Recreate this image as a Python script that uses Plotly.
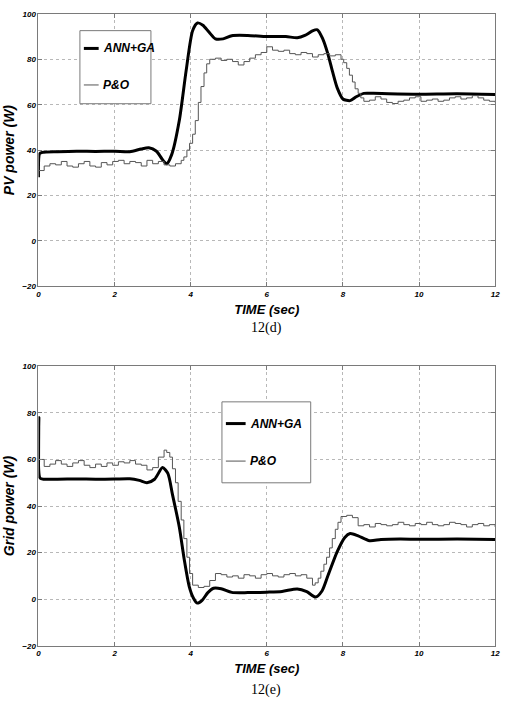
import plotly.graph_objects as go

# ---------------- data ----------------
# 12(d) PV power
pv_ann_t = [0, 0.03, 0.1, 0.5, 1.0, 1.5, 2.0, 2.4, 2.7, 2.9, 3.1, 3.25, 3.37, 3.5, 3.7, 3.88, 4.05, 4.18,
            4.32, 4.48, 4.65, 4.85, 5.08, 5.5, 6.0, 6.5, 6.8, 7.0, 7.2, 7.33, 7.47, 7.6, 7.72, 7.85, 8.0,
            8.19, 8.35, 8.55, 8.8, 9.2, 10, 11, 12]
pv_ann_v = [28, 38.5, 39, 39.3, 39.5, 39.4, 39.5, 39.3, 40.5, 41, 39.5, 36, 34, 38, 53, 75, 92.6, 96,
            95, 92, 89, 89, 90.4, 90.5, 90, 90, 89.5, 90.5, 92.5, 93, 89, 82.6, 75, 67.4, 62.5,
            61.8, 63.5, 65, 65, 64.8, 64.6, 64.8, 64.5]

# P&O (time, value) samples, drawn as steps
pv_po = [(0, 31), (0.15, 33), (0.3, 34), (0.45, 33.5), (0.6, 35), (0.75, 33), (0.9, 32.5), (1.05, 34),
         (1.2, 35), (1.35, 33), (1.5, 32.5), (1.65, 34.5), (1.8, 33.5), (1.95, 35), (2.1, 35.5),
         (2.25, 34), (2.4, 35), (2.55, 34.5), (2.7, 33), (2.85, 35.5), (3.0, 34), (3.15, 35),
         (3.3, 33.5), (3.45, 33), (3.6, 34), (3.75, 35.5), (3.82, 37), (3.9, 40), (3.97, 43), (4.05, 47),
         (4.12, 53), (4.2, 61), (4.27, 68), (4.35, 74), (4.42, 78), (4.5, 80), (4.65, 80.5), (4.8, 79.5),
         (4.95, 80), (5.1, 79), (5.25, 77.5), (5.4, 79), (5.55, 80.5), (5.7, 82), (5.85, 83), (6.0, 85.5),
         (6.15, 84), (6.3, 83.5), (6.45, 84), (6.6, 82.5), (6.75, 82), (6.9, 83), (7.05, 82.5), (7.2, 81),
         (7.35, 82), (7.5, 82.5), (7.65, 81.5), (7.8, 82), (7.95, 80), (8.02, 78.5), (8.1, 76), (8.17, 73),
         (8.25, 70), (8.32, 67), (8.4, 65), (8.47, 63), (8.55, 61.5), (8.7, 62), (8.85, 63.5), (9.0, 62.5),
         (9.15, 61), (9.3, 60.5), (9.45, 61.5), (9.6, 62), (9.75, 63), (9.9, 63.5), (10.05, 61.5),
         (10.2, 62), (10.35, 62.5), (10.5, 61.5), (10.65, 62), (10.8, 63), (10.95, 63.5), (11.1, 62.5),
         (11.25, 63), (11.4, 64), (11.55, 63), (11.7, 62), (11.85, 61.5), (12.0, 61)]

# 12(e) Grid power
gr_ann_t = [0, 0.01, 0.04, 0.15, 0.5, 1.0, 1.5, 2.0, 2.4, 2.65, 2.85, 3.05, 3.26, 3.4, 3.52, 3.7, 3.83, 3.96,
            4.07, 4.17, 4.3, 4.45, 4.6, 4.8, 5.08, 5.5, 6.0, 6.4, 6.8, 7.05, 7.28, 7.45, 7.6, 7.85, 8.05,
            8.19, 8.4, 8.7, 9.0, 9.5, 10, 11, 12]
gr_ann_v = [52, 78, 52, 51.5, 51.5, 51.6, 51.5, 51.6, 51.7, 51, 50, 51.5, 56.5, 54, 45, 31, 17, 5.5,
            0.5, -1.7, -0.5, 2.8, 4.7, 4.5, 2.9, 2.8, 3, 3.3, 4.4, 3.2, 0.9, 3.5, 9.8, 20.4, 26.5,
            28.2, 27.2, 25.1, 25.6, 25.8, 25.7, 25.8, 25.6]

gr_po = [(0, 60), (0.15, 57), (0.3, 58), (0.45, 59.5), (0.6, 58), (0.75, 57), (0.9, 58.5), (1.05, 59.5),
         (1.2, 57.5), (1.35, 56.5), (1.5, 58), (1.65, 57), (1.8, 58.5), (1.95, 57.5), (2.1, 59),
         (2.25, 58.5), (2.4, 59.5), (2.55, 58), (2.7, 57.5), (2.85, 55.5), (3.0, 56.5), (3.15, 61),
         (3.3, 64), (3.37, 63), (3.45, 61), (3.52, 56), (3.6, 50), (3.67, 42), (3.75, 34), (3.82, 26),
         (3.9, 18), (3.97, 11), (4.05, 6), (4.2, 5), (4.35, 5.5), (4.5, 8), (4.65, 11), (4.8, 10.5),
         (4.95, 9.5), (5.1, 10), (5.25, 9), (5.4, 10.5), (5.55, 10), (5.7, 9), (5.85, 10.5), (6.0, 11),
         (6.15, 10), (6.3, 9.5), (6.45, 10.5), (6.6, 11), (6.75, 10), (6.9, 10.5), (7.05, 9), (7.2, 6),
         (7.27, 7), (7.35, 9), (7.42, 12), (7.5, 15), (7.57, 18), (7.65, 22), (7.72, 26), (7.8, 30),
         (7.87, 33), (7.95, 35.5), (8.1, 36), (8.25, 35), (8.4, 31.5), (8.55, 32), (8.7, 31), (8.85, 32.5),
         (9.0, 32), (9.15, 31.5), (9.3, 32), (9.45, 33), (9.6, 32), (9.75, 31.5), (9.9, 32.5), (10.05, 32),
         (10.2, 33), (10.35, 32), (10.5, 31.5), (10.65, 32), (10.8, 33), (10.95, 32.5), (11.1, 32),
         (11.25, 31), (11.4, 32), (11.55, 32.5), (11.7, 31.5), (11.85, 32), (12.0, 31)]

x_ticks = [0, 2, 4, 6, 8, 10, 12]
y_ticks = [-20, 0, 20, 40, 60, 80, 100]
series_names = ["ANN+GA", "P&O"]

# ---------------- figure ----------------
W, H = 510, 705
FONT = "Liberation Sans, Arial, sans-serif"
ANN_LINE = dict(color="black", width=3)
PO_LINE = dict(color="#555555", width=1)

fig = go.Figure()
fig.add_trace(go.Scatter(x=pv_ann_t, y=pv_ann_v, mode="lines", name=series_names[0],
                         line=dict(shape="spline", smoothing=0.7, **ANN_LINE), xaxis="x", yaxis="y"))
fig.add_trace(go.Scatter(x=[p[0] for p in pv_po], y=[p[1] for p in pv_po], mode="lines",
                         name=series_names[1], line=dict(shape="hv", **PO_LINE), xaxis="x", yaxis="y"))
fig.add_trace(go.Scatter(x=gr_ann_t, y=gr_ann_v, mode="lines", name=series_names[0],
                         line=dict(shape="spline", smoothing=0.7, **ANN_LINE), xaxis="x2", yaxis="y2"))
fig.add_trace(go.Scatter(x=[p[0] for p in gr_po], y=[p[1] for p in gr_po], mode="lines",
                         name=series_names[1], line=dict(shape="hv", **PO_LINE), xaxis="x2", yaxis="y2"))

x_dom = [37 / W, 500 / W]
top_dom = [1 - 286 / H, 1 - 10 / H]
bot_dom = [1 - 650 / H, 1 - 367 / H]

tickfont = dict(family=FONT, size=8, color="black", weight="bold", style="italic")
titlefont = dict(family=FONT, size=13, color="black", weight="bold", style="italic")
ytitlefont = dict(family=FONT, size=14, color="black", weight="bold", style="italic")


def xax(anchor):
    return dict(domain=x_dom, anchor=anchor, range=[0, 12], tickvals=x_ticks,
                showgrid=True, gridcolor="#b8b8b8", griddash="dot", gridwidth=1,
                showline=True, linecolor="#7a7a7a", linewidth=1, mirror="allticks",
                ticks="inside", ticklen=4, tickcolor="#7a7a7a", zeroline=False,
                tickfont=tickfont, title=dict(text="TIME (sec)", font=titlefont, standoff=6))


def yax(dom, anchor, title):
    return dict(domain=dom, anchor=anchor, range=[-20, 100], tickvals=y_ticks,
                showgrid=True, gridcolor="#b8b8b8", griddash="dot", gridwidth=1,
                showline=True, linecolor="#7a7a7a", linewidth=1, mirror="allticks",
                ticks="inside", ticklen=4, tickcolor="#7a7a7a", zeroline=False,
                tickfont=tickfont, title=dict(text=title, font=ytitlefont, standoff=4))


# ---- legends (drawn as boxes with line samples and labels, in pixel layout) ----
def px(x):
    return x / W


def py(y):
    return 1 - y / H


shapes = []
annotations = []
legend_specs = [
    # box x0, x1, y0, y1, sample x0, x1, text x, entry ys
    (79, 151, 27, 101, 83, 98, 100, (45, 82)),
    (223, 313, 403, 485, 227, 247, 249, (425, 463)),
]
for bx0, bx1, by0, by1, sx0, sx1, tx, ys in legend_specs:
    shapes.append(dict(type="rect", xref="paper", yref="paper", x0=px(bx0), x1=px(bx1),
                       y0=py(by1), y1=py(by0), line=dict(color="#7a7a7a", width=1),
                       fillcolor="white", layer="above"))
    for name, yy, ln in zip(series_names, ys, (ANN_LINE, PO_LINE)):
        shapes.append(dict(type="line", xref="paper", yref="paper", x0=px(sx0), x1=px(sx1),
                           y0=py(yy), y1=py(yy), line=ln, layer="above"))
        annotations.append(dict(text=name, x=px(tx), y=py(yy), xref="paper", yref="paper",
                                xanchor="left", yanchor="middle", showarrow=False,
                                font=dict(family=FONT, size=12, color="black",
                                          weight="bold", style="italic")))

annotations += [
    dict(text="12(d)", x=px(268), y=py(328), xref="paper", yref="paper", showarrow=False,
         xanchor="center", yanchor="middle",
         font=dict(family="Liberation Serif, Times New Roman, serif", size=14, color="black")),
    dict(text="12(e)", x=px(268), y=py(695), xref="paper", yref="paper", showarrow=False,
         xanchor="center", yanchor="middle",
         font=dict(family="Liberation Serif, Times New Roman, serif", size=14, color="black")),
]

fig.update_layout(
    width=W, height=H, margin=dict(l=0, r=0, t=0, b=0),
    paper_bgcolor="white", plot_bgcolor="white", showlegend=False,
    xaxis=xax("y"), yaxis=yax(top_dom, "x", "PV power (W)"),
    xaxis2=xax("y2"), yaxis2=yax(bot_dom, "x2", "Grid power (W)"),
    shapes=shapes, annotations=annotations,
)

fig.write_html("out.html")
